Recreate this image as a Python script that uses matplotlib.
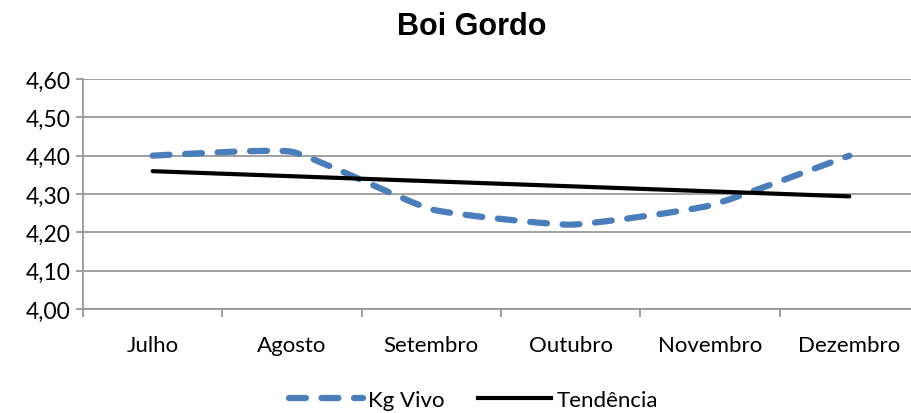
import numpy as np
import matplotlib
matplotlib.use("Agg")
import matplotlib.pyplot as plt
from matplotlib.path import Path
from matplotlib.patches import PathPatch
from matplotlib.lines import Line2D

meses = ["Julho", "Agosto", "Setembro", "Outubro", "Novembro", "Dezembro"]
kg_vivo = [4.40, 4.41, 4.26, 4.22, 4.27, 4.40]
y_ticks = [4.00, 4.10, 4.20, 4.30, 4.40, 4.50, 4.60]

BLUE = "#4a7ebb"
GRID = "#999999"

x = np.arange(len(meses))
y = np.array(kg_vivo)

# smoothed line: cubic bezier segments, control points from the neighbours
verts = [(x[0], y[0])]
codes = [Path.MOVETO]
t = 0.07
for i in range(len(x) - 1):
    p0 = np.array([x[max(i - 1, 0)], y[max(i - 1, 0)]])
    p1 = np.array([x[i], y[i]])
    p2 = np.array([x[i + 1], y[i + 1]])
    p3 = np.array([x[min(i + 2, len(x) - 1)], y[min(i + 2, len(x) - 1)]])
    c1 = p1 + (p2 - p0) * t
    c2 = p2 - (p3 - p1) * t
    verts += [tuple(c1), tuple(c2), tuple(p2)]
    codes += [Path.CURVE4] * 3

# linear trend line, as Excel computes it
m, b = np.polyfit(x, y, 1)
trend = m * x + b

fig = plt.figure(figsize=(9.12, 4.14), dpi=100)
ax = fig.add_axes([83 / 912, 1 - 310 / 414, 836 / 912, 230 / 414])

LW = 4.5
dash = (0, (2.7, 2.5))
ax.add_patch(PathPatch(Path(verts, codes), facecolor="none", edgecolor=BLUE,
                       lw=LW, linestyle=dash, capstyle="round", zorder=3))
ax.plot(x[[0, -1]], trend[[0, -1]], color="black", lw=3,
        solid_capstyle="round", zorder=4)

ax.set_xlim(-0.5, len(meses) - 0.5)
ax.set_ylim(4.0, 4.6)
ax.set_yticks(y_ticks)
ax.set_yticklabels([f"{v:.2f}".replace(".", ",") for v in y_ticks],
                   fontsize=16.5, family="Lato")
ax.yaxis.grid(True, color=GRID, lw=1.3)
ax.set_axisbelow(True)
ax.tick_params(axis="y", length=5, width=1.3, color=GRID, pad=4)

ax.set_xticks(np.arange(-0.5, len(meses)), minor=False)
ax.set_xticklabels([])
ax.set_xticks(x, minor=True)
ax.set_xticklabels(meses, minor=True, fontsize=16, family="Lato")
ax.tick_params(axis="x", which="major", length=6, width=1.3, color=GRID)
ax.tick_params(axis="x", which="minor", length=0, pad=19)

for s in ["top", "right"]:
    ax.spines[s].set_visible(False)
for s in ["left", "bottom"]:
    ax.spines[s].set_color(GRID)
    ax.spines[s].set_linewidth(1.3)

fig.text(472 / 912, 1 - 27 / 414, "Boi Gordo", ha="center", va="center",
         fontsize=22, fontweight="bold", family="Liberation Sans")

handles = [Line2D([], [], color=BLUE, lw=LW, linestyle=dash,
                  dash_capstyle="round"),
           Line2D([], [], color="black", lw=3)]
fig.legend(handles, ["Kg Vivo", "Tendência"], loc="center",
           bbox_to_anchor=(474 / 912, 1 - 401 / 414), ncol=2, frameon=False,
           prop={"family": "Lato", "size": 16}, handlelength=3.3,
           handletextpad=0.25, columnspacing=1.5)

fig.savefig("out.png", dpi=100)
